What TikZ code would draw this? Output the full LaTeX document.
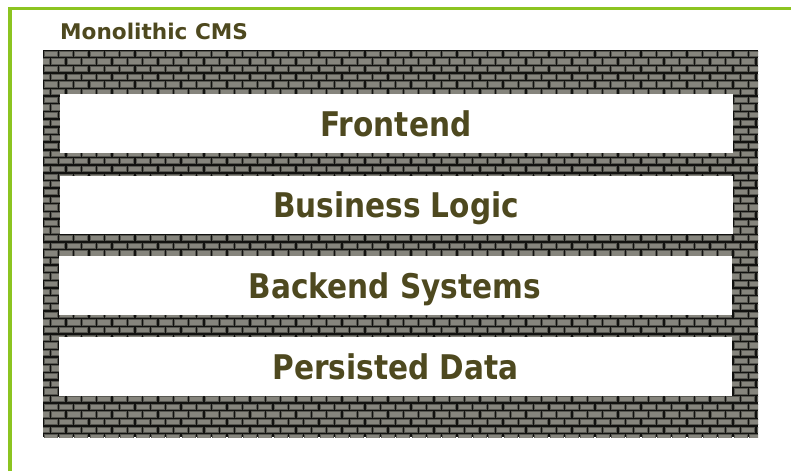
\documentclass[tikz,border=0pt]{standalone}
\usepackage{fontspec}
\setmainfont{DejaVu Sans}
\newfontfamily\layerfont{DejaVu Sans}[FakeStretch=0.87]
\definecolor{framegreen}{RGB}{140,196,32}
\definecolor{textolive}{RGB}{78,73,31}
\definecolor{brickgray}{RGB}{134,133,125}
\definecolor{brickedge}{RGB}{88,88,82}
\definecolor{mortar}{RGB}{18,18,16}
\tikzset{
  layerbox/.style={fill=white, draw=none, inner sep=0pt, minimum width=673pt,
    text height=25pt, text depth=0pt, text=textolive,
    font=\layerfont\bfseries\fontsize{34}{34}\selectfont},
  titletext/.style={inner sep=0pt, anchor=base west, text=textolive,
    font=\bfseries\fontsize{21.6}{22}\selectfont},
  brickstyle/.style={fill=brickgray, draw=brickedge, line width=0.8pt}
}
\begin{document}
\begin{tikzpicture}[x=1pt,y=-1pt]
\useasboundingbox (0,0) rectangle (791,471);
\fill[white] (0,0) rectangle (791,471);
% frame
\draw[framegreen, line width=3.4pt] (10,471) -- (10,8.5) -- (791,8.5);
% title
\node[titletext] (title) at (60,39) {Monolithic CMS};
% brick wall
\begin{scope}
\clip (43,50) rectangle (758,437);
\fill[mortar] (43,50) rectangle (758,437);
\foreach \r in {0,...,50} {
  \pgfmathsetmacro\off{mod(\r,2)*7.665}
  \foreach \c in {-1,...,47} {
    \fill[brickstyle] ({43+\c*15.33+\off+1.2}, {50+\r*7.67+1.2}) rectangle ++(12.9,5.3);
  }
}
\end{scope}
% layers
\node[layerbox, minimum height=59pt] (fe) at (396,123.5) {Frontend};
\node[layerbox, minimum height=58pt] (bl) at (396,204.5) {Business Logic};
\node[layerbox, minimum height=59pt] (bs) at (395,285.5) {Backend Systems};
\node[layerbox, minimum height=59pt] (pd) at (395.5,366.5) {Persisted Data};
\end{tikzpicture}
\end{document}
